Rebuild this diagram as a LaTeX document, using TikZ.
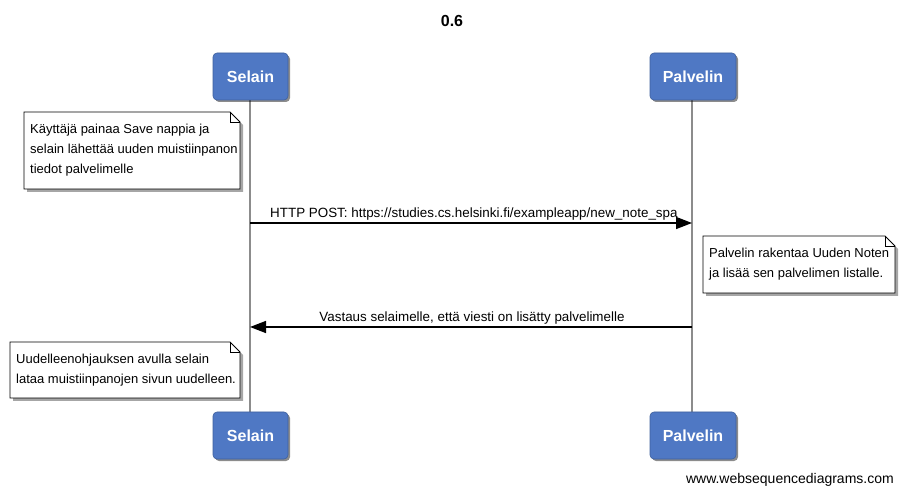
\documentclass[tikz,border=0pt]{standalone}
\usepackage{fontspec}
\setmainfont{Liberation Sans}
\usetikzlibrary{arrows.meta,shadows,positioning}
\definecolor{partblue}{RGB}{79,120,196}
\definecolor{lifegray}{RGB}{140,140,140}
\tikzset{
  part/.style={draw=partblue!80!black, line width=0.6pt, fill=partblue, rounded corners=4pt,
    minimum width=#1, minimum height=47pt, inner sep=0pt,
    font=\fontsize{16}{18}\selectfont\bfseries, text=white,
    drop shadow={shadow xshift=2pt, shadow yshift=-2pt, opacity=0.45, fill=black}},
  lifeline/.style={draw=lifegray, line width=1.5pt},
  msg/.style={draw=black, line width=1.5pt, -{Triangle[length=16pt,width=12pt]}},
  msglabel/.style={font=\fontsize{13.4}{15}\selectfont, inner sep=0pt, anchor=base},
  notetext/.style={font=\fontsize{13}{20}\selectfont, align=left, anchor=north west, inner sep=0pt},
}
\newcommand{\drawnote}[5]{% name, x1, y1, x2, y2
  \fill[black, opacity=0.35] (#2+3,#3+3) -- (#4-10+3,#3+3) -- (#4+3,#3+10+3) -- (#4+3,#5+3) -- (#2+3,#5+3) -- cycle;
  \draw[fill=white, line width=0.8pt] (#2,#3) -- (#4-10,#3) -- (#4,#3+10) -- (#4,#5) -- (#2,#5) -- cycle;
  \draw[line width=0.8pt] (#4-10,#3) -- (#4-10,#3+10) -- (#4,#3+10);
  \coordinate (#1) at (#2,#3);
}
\begin{document}
\begin{tikzpicture}[x=1pt,y=-1pt]
\useasboundingbox (0,0) rectangle (903,494);
\node[font=\fontsize{16}{18}\selectfont\bfseries] (title) at (452,21) {0.6};
% lifelines
\coordinate (sTop) at (250,100);
\coordinate (sBot) at (250,412);
\coordinate (pTop) at (692,100);
\coordinate (pBot) at (692,412);
\draw[lifeline] (sTop) -- (sBot);
\draw[lifeline] (pTop) -- (pBot);
% participants
\node[part=75pt] (s1) at (250.5,76.5) {Selain};
\node[part=86pt] (p1) at (693,76.5) {Palvelin};
\node[part=75pt] (s2) at (250.5,435.5) {Selain};
\node[part=86pt] (p2) at (693,435.5) {Palvelin};
% note 1
\drawnote{n1}{24}{112}{240}{189}
\node[notetext] (n1t) at (30,124) {Käyttäjä painaa Save nappia ja\\selain lähettää uuden muistiinpanon\\tiedot palvelimelle};
% message 1
\coordinate (m1s) at (250,223);
\coordinate (m1e) at (692,223);
\draw[msg] (m1s) -- (m1e);
\node[msglabel, anchor=base west] (m1l) at (270,218) {HTTP POST: https://studies.cs.helsinki.fi/exampleapp/new\_note\_spa};
% note 2
\drawnote{n2}{703}{236}{895}{293}
\node[notetext] (n2t) at (709,248) {Palvelin rakentaa Uuden Noten\\ja lisää sen palvelimen listalle.};
% message 2
\coordinate (m2s) at (692,327);
\coordinate (m2e) at (250,327);
\draw[msg] (m2s) -- (m2e);
\node[msglabel] (m2l) at (472,322) {Vastaus selaimelle, että viesti on lisätty palvelimelle};
% note 3
\drawnote{n3}{10}{342}{240}{398}
\node[notetext] (n3t) at (16,354) {Uudelleenohjauksen avulla selain\\lataa muistiinpanojen sivun uudelleen.};
% watermark
\node[font=\fontsize{14}{16}\selectfont, anchor=base east, inner sep=0pt] (wm) at (894,483) {www.websequencediagrams.com};
\end{tikzpicture}
\end{document}
